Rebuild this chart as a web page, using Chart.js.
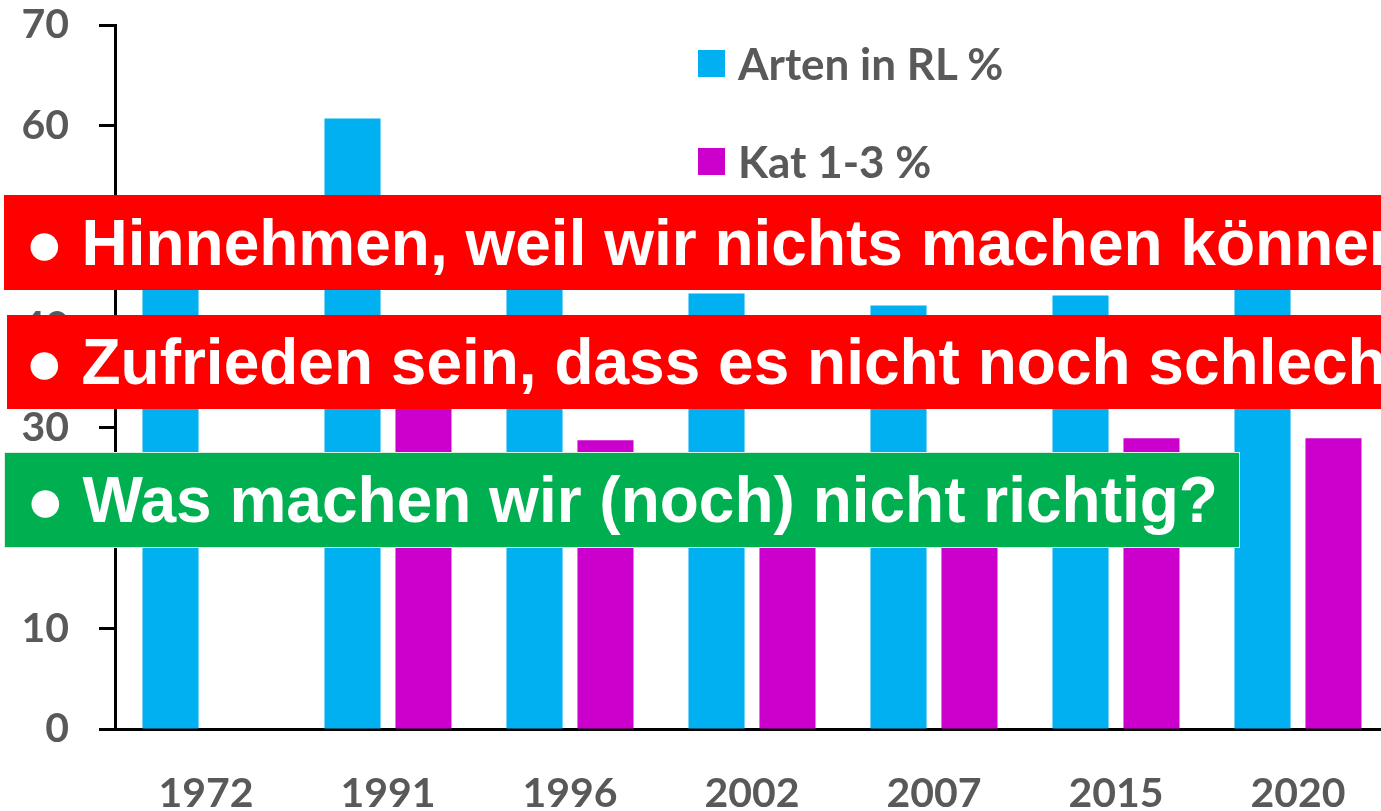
<!DOCTYPE html>
<html lang="de">
<head>
<meta charset="utf-8">
<script src="https://cdn.jsdelivr.net/npm/chart.js@4/dist/chart.umd.min.js"></script>
<style>
  html, body { margin: 0; padding: 0; background: #ffffff; }
  body { width: 1381px; height: 811px; overflow: hidden; position: relative; }
  #wrap { position: absolute; left: 0; top: 0; width: 1395px; height: 811px; }
  #legend { position: absolute; left: 698px; top: 0; z-index: 2; font-family: Lato, "Open Sans", sans-serif; font-weight: 700; color: #595959; }
  .li { position: absolute; left: 0; display: flex; align-items: center; white-space: nowrap; font-size: 44px; }
  .li .sw { width: 27px; height: 27px; margin-right: 13px; }
  .band { position: absolute; z-index: 5; color: #ffffff; font-family: "Liberation Sans", Arial, sans-serif; font-weight: 700; font-size: 64px; white-space: nowrap; overflow: hidden; display: flex; align-items: center; box-sizing: border-box; padding-left: 21px; }
  .red { background: #ff0000; }
  .green { background: #00b050; border: 1px solid #d8f0e0; }
</style>
</head>
<body>
<div id="wrap"><canvas id="c" width="1395" height="811"></canvas></div>
<div id="legend"></div>
<div class="band red" style="left:4px; top:195px; width:1390px; height:95px;">● Hinnehmen, weil wir nichts machen können</div>
<div class="band red" style="left:7px; top:315px; width:1390px; height:94px; padding-left:18px;">● Zufrieden sein, dass es nicht noch schlechter ist</div>
<div class="band green" style="left:4px; top:452px; width:1236px; height:96px;">● Was machen wir (noch) nicht richtig?</div>
<script>
// ---- data ----
const years = ["1972", "1991", "1996", "2002", "2007", "2015", "2020"];
const seriesNames = ["Arten in RL %", "Kat 1-3 %"];
const artenInRL = [47, 60.7, 49, 43.3, 42.1, 43.1, 47];
const kat13 = [null, 36, 28.7, 25, 24, 28.9, 28.9];
const yTicks = [0, 10, 20, 30, 40, 50, 60, 70];
const colors = ["#00B0F0", "#CC00CC"];

// ---- legend (HTML, real text) ----
const legend = document.getElementById('legend');
seriesNames.forEach((name, i) => {
  const d = document.createElement('div');
  d.className = 'li';
  d.style.top = (i === 0 ? 37 : 135) + 'px';
  d.innerHTML = '<span class="sw" style="background:' + colors[i] + '"></span><span>' + name + '</span>';
  legend.appendChild(d);
});

const tickFont = { family: "Lato, 'Open Sans', sans-serif", size: 41, weight: '700' };

new Chart(document.getElementById('c'), {
  type: 'bar',
  data: {
    labels: years,
    datasets: [
      { label: seriesNames[0], data: artenInRL, backgroundColor: colors[0], categoryPercentage: 0.78, barPercentage: 0.79 },
      { label: seriesNames[1], data: kat13, backgroundColor: colors[1], categoryPercentage: 0.78, barPercentage: 0.79 }
    ]
  },
  options: {
    responsive: false,
    animation: false,
    devicePixelRatio: 1,
    layout: { padding: { top: 25, right: 6, bottom: 0, left: 0 } },
    plugins: { legend: { display: false }, tooltip: { enabled: false } },
    scales: {
      y: {
        min: 0, max: 70,
        afterBuildTicks: (s) => { s.ticks = yTicks.map(v => ({ value: v })); },
        afterFit: (s) => { s.width = 115; s.paddingTop = 0; s.paddingBottom = 0; },
        ticks: { color: '#595959', font: tickFont, padding: 30 },
        grid: { drawOnChartArea: false, drawTicks: true, tickLength: 16, tickColor: '#000', tickWidth: 3 },
        border: { display: true, color: '#000', width: 3 }
      },
      x: {
        afterFit: (s) => { s.height = 82; },
        ticks: { color: '#595959', font: tickFont, padding: 40, maxRotation: 0 },
        grid: { display: false, drawTicks: false },
        border: { display: true, color: '#000', width: 3 }
      }
    }
  }
});
</script>
</body>
</html>
